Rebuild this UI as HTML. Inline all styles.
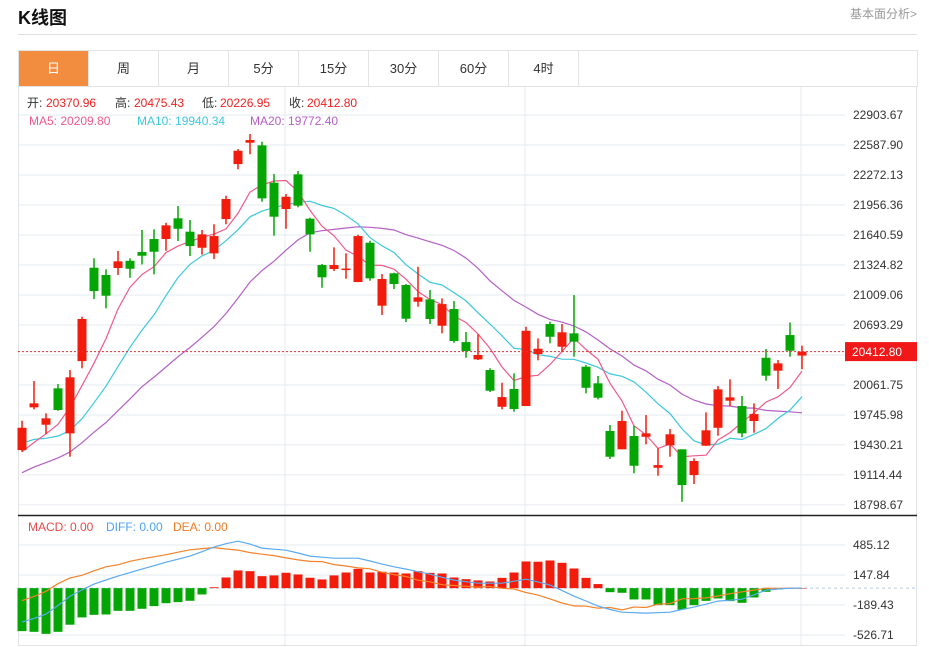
<!DOCTYPE html>
<html><head><meta charset="utf-8">
<style>
body{margin:0;width:929px;height:647px;overflow:hidden;background:#fff;font-family:"Liberation Sans","Noto Sans CJK SC",sans-serif;position:relative}
.title{position:absolute;left:18px;top:4px;font-size:18px;font-weight:bold;color:#111}
.more{position:absolute;left:850px;top:5px;font-size:12px;color:#999}
.hr{position:absolute;left:18px;top:34px;width:899px;height:1px;background:#ddd}
.tabs{position:absolute;left:18px;top:50px;width:898px;height:35px;border:1px solid #e3e3e3;display:flex}
.tab{width:69px;border-right:1px solid #e3e3e3;text-align:center;line-height:35px;font-size:13px;color:#333}
.tab.on{background:#f28c3f;color:#fff}
svg{position:absolute;left:0;top:0}
</style></head><body>
<div class="title">K线图</div>
<div class="more">基本面分析&gt;</div>
<div class="hr"></div>
<div class="tabs">
<div class="tab on">日</div>
<div class="tab">周</div>
<div class="tab">月</div>
<div class="tab">5分</div>
<div class="tab">15分</div>
<div class="tab">30分</div>
<div class="tab">60分</div>
<div class="tab">4时</div>
</div>
<svg id="chart" width="929" height="647" font-family="Liberation Sans, Noto Sans CJK SC, sans-serif"></svg>
<script>
const priceTicks=[22903.67,22587.90,22272.13,21956.36,21640.59,21324.82,21009.06,20693.29,20377.52,20061.75,19745.98,19430.21,19114.44,18798.67];
const macdTicks=[485.12,147.84,-189.43,-526.71];
const opens=[19376,19826,19643,20026,19552,20313,21296,21219,21293,21369,21461,21598,21598,21816,21675,21506,21447,21808,22387,22612,22584,22191,21914,22279,21812,21324,21282,21277,21145,21559,20896,21237,21114,20938,20963,20685,20861,20513,20331,20219,19832,20019,19840,20387,20703,20464,20605,20254,20079,19577,19384,19524,19516,19190,19426,19384,19113,19422,19611,19896,19840,19682,20348,20212,20587,20370.96];
const highs=[19685,20103,19763,20071,20219,20780,21395,21279,21472,21395,21693,21700,21769,21945,21798,21693,21753,22054,22545,22703,22622,22282,22072,22314,21822,21335,21510,21447,21643,21580,21229,21243,21124,21306,21061,20973,20945,20619,20595,20237,20085,20184,20675,20552,20727,20703,21008,20271,20156,19640,19790,19632,19745,19394,19598,19384,19289,19773,20050,20121,19945,19868,20440,20324,20719,20475.43];
const lows=[19358,19805,19545,19790,19306,20237,20966,20868,21219,21190,21331,21226,21475,21577,21419,21433,21387,21753,22332,22490,21991,21633,21706,21932,21464,21085,21261,21180,21145,21159,20798,21071,20724,20885,20703,20605,20506,20348,20324,19987,19805,19780,19840,20321,20500,20411,20359,19973,19910,19282,19384,19131,19437,19106,19306,18832,19019,19422,19527,19840,19510,19559,20106,20019,20359,20226.95];
const closes=[19611,19868,19710,19798,20142,20756,21050,21001,21363,21285,21422,21464,21742,21706,21524,21647,21629,22019,22527,22640,22026,21833,22043,21949,21647,21195,21324,21287,21629,21184,21177,21124,20759,20984,20756,20913,20524,20419,20377,20001,19934,19808,20632,20443,20569,20616,20517,20032,19927,19306,19682,19211,19552,19218,19542,19008,19261,19584,20015,19931,19552,19755,20159,20289,20422,20412.80];
const priorCloses=[18700,18750,18820,18900,18780,18850,18950,18880,18800,18860,19450,19600,19550,19580,19500,19380,19250,19300,19250];
const diffVals=[-382,-340,-292,-195,-90,-20,45,92,135,175,214,252,292,326,360,410,461,500,528,495,450,438,427,395,360,348,337,337,337,305,270,240,214,185,157,122,90,72,56,56,56,78,101,70,34,-25,-90,-145,-202,-240,-270,-276,-281,-276,-270,-240,-213,-180,-146,-135,-124,-75,-22,-10,0,0];
const deaVals=[-140,-94,-35,50,115,144,195,240,262,302,330,353,376,404,431,445,456,440,428,400,382,366,340,318,301,299,265,249,228,217,178,152,131,89,71,39,30,21,12,18,-2,-10,-49,-78,-121,-167,-200,-203,-225,-217,-244,-212,-217,-180,-174,-120,-117,-108,-88,-62,-41,-22,-1,-2,0,0];
const macdVals=[-483,-491,-514,-491,-411,-329,-300,-296,-255,-255,-232,-202,-169,-157,-142,-71,10,120,199,191,135,143,173,154,117,98,143,176,217,176,184,176,165,191,172,165,120,101,87,75,116,176,300,297,311,285,221,116,46,-45,-52,-127,-127,-191,-191,-240,-191,-143,-116,-146,-165,-105,-41,-15,-3,0];

const svg=document.getElementById('chart');const NS='http://www.w3.org/2000/svg';
function mk(t,a,p){const e=document.createElementNS(NS,t);for(const k in a)e.setAttribute(k,a[k]);(p||svg).appendChild(e);return e;}
const L=18,R=845,RED='#f21c0c',GREEN='#06a506';
const xAt=i=>22+12*i;
const yP=p=>115+(22903.67-p)/315.83*30;
const yM=v=>575-(v-147.84)/337.27*30;
// frame
let fr=mk('rect',{x:18.5,y:86.5,width:898,height:559,fill:'none',stroke:'#e3e3e3'});


// grid
priceTicks.forEach(t=>{const y=yP(t);
 let g=mk('line',{x1:L,x2:R,y1:y,y2:y,stroke:'#e6ebf0'});
 
 
 let tx=mk('text',{x:853,y:y+4,'font-size':12,fill:'#333'});tx.textContent=t.toFixed(2);
 
 
});
macdTicks.forEach(t=>{const y=yM(t);
 let g=mk('line',{x1:L,x2:R,y1:y,y2:y,stroke:'#e6ebf0'});
 
 
 let tx=mk('text',{x:853,y:y+4,'font-size':12,fill:'#333'});tx.textContent=t.toFixed(2);
 
 
});
[285,525,801].forEach(x=>{let g=mk('line',{x1:x,x2:x,y1:87,y2:645,stroke:'#e6ebf0'});
 
 });
let sep=mk('line',{x1:18,x2:917,y1:515.5,y2:515.5,stroke:'#222','stroke-width':1.5});


// MA lines
const all=priorCloses.concat(closes),off=priorCloses.length;
function ma(n){return closes.map((c,i)=>{let s=0;for(let k=0;k<n;k++)s+=all[off+i-k];return s/n;});}
function line(vals,fy,color,name){const d=vals.map((v,i)=>(i?'L':'M')+xAt(i)+','+fy(v).toFixed(1)).join('');
 const p=mk('path',{d:d,fill:'none',stroke:color,'stroke-width':1.2});
 
 }
line(ma(20),yP,'#b45fc5','ma20-line');
line(ma(10),yP,'#3cc8dc','ma10-line');
line(ma(5),yP,'#ef5a8a','ma5-line');
// candles
closes.forEach((c,i)=>{const o=opens[i],up=c>=o,col=up?RED:GREEN,x=xAt(i);
 const w=mk('line',{x1:x,x2:x,y1:yP(highs[i]),y2:yP(lows[i]),stroke:col,'stroke-width':1.5});
 
 
 const t=yP(Math.max(o,c)),b=yP(Math.min(o,c));
 const r=mk('rect',{x:x-4.5,y:t,width:9,height:Math.max(1.5,b-t),fill:col});
 
 
});
// current price
const last=closes[closes.length-1],ly=yP(last);
let cl=mk('line',{x1:L,x2:R,y1:ly,y2:ly,stroke:'#e03030','stroke-dasharray':'2,2'});


let cb=mk('rect',{x:845,y:ly-9.5,width:72,height:19,fill:'#f01818'});


let ct=mk('text',{x:852,y:ly+4.5,'font-size':12,fill:'#fff'});ct.textContent=last.toFixed(2);


// macd
const z=yM(0);
let zl=mk('line',{x1:L,x2:917,y1:z,y2:z,stroke:'#b8cce0','stroke-dasharray':'3,3'});


macdVals.forEach((v,i)=>{const y=yM(v);
 const r=mk('rect',{x:xAt(i)-4.5,y:Math.min(y,z),width:9,height:Math.max(0.5,Math.abs(y-z)),fill:v>=0?RED:GREEN});
 
 });
line(deaVals,yM,'#f5822a','dea-line');
line(diffVals,yM,'#5aaaf0','diff-line');
// info texts
function txt(x,y,s,col,name,size){const t=mk('text',{x:x,y:y,'font-size':size||12,fill:col});t.textContent=s;
 
 return t;}
txt(27,107,'开:','#333','open-label');txt(46,107,'20370.96','#f02020','open-value');
txt(115,107,'高:','#333','high-label');txt(134,107,'20475.43','#f02020','high-value');
txt(202,107,'低:','#333','low-label');txt(220,107,'20226.95','#f02020','low-value');
txt(289,107,'收:','#333','close-label');txt(307,107,'20412.80','#f02020','close-value');
txt(29,125,'MA5:  20209.80','#ef5a8a','ma5-legend');
txt(137,125,'MA10:  19940.34','#3cc8dc','ma10-legend');
txt(250,125,'MA20:  19772.40','#b45fc5','ma20-legend');
txt(28,531,'MACD: 0.00','#e84a4a','macd-legend');
txt(106,531,'DIFF: 0.00','#4ba3f0','diff-legend');
txt(173,531,'DEA: 0.00','#f07a20','dea-legend');
</script>
</body></html>
